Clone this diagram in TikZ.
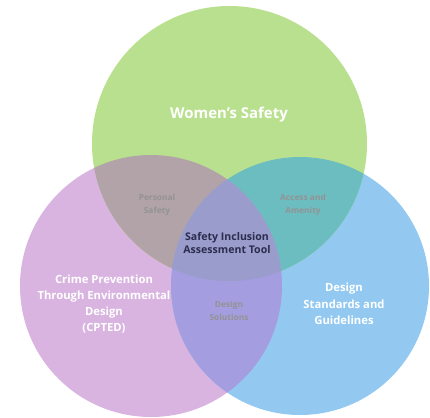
\documentclass[tikz,border=0pt]{standalone}
\usepackage{fontspec}
\setmainfont{Open Sans}[UprightFont=* Bold]
\begin{document}
\begin{tikzpicture}[x=1bp,y=-1bp,
  lbl/.style={align=center,inner sep=0pt,text=white},
  sub/.style={align=center,inner sep=0pt,text=subgray,font=\fontsize{8.4}{13}\selectfont},
]
\definecolor{cgreen}{HTML}{B9E08F}
\definecolor{cpurple}{HTML}{D9B4E1}
\definecolor{cblue}{HTML}{93C9F1}
\definecolor{cgp}{HTML}{B2A3A9}
\definecolor{cgb}{HTML}{6CBDC0}
\definecolor{cpb}{HTML}{A49DE0}
\definecolor{cgpb}{HTML}{9A9CCB}
\definecolor{subgray}{HTML}{939393}
\definecolor{navy}{HTML}{2C2C4E}
\useasboundingbox (0,0) rectangle (430,418);
\def\G{(229.5,143.5) circle (137.5)}
\def\P{(151,286) circle (131)}
\def\B{(300,286) circle (129)}
\fill[cpurple] \P;
\fill[cblue] \B;
\fill[cgreen] \G;
\begin{scope}\clip \G; \fill[cgp] \P; \end{scope}
\begin{scope}\clip \G; \fill[cgb] \B; \end{scope}
\begin{scope}\clip \P; \fill[cpb] \B; \end{scope}
\begin{scope}\clip \G; \clip \P; \fill[cgpb] \B; \end{scope}
\node[lbl,font=\fontsize{15}{17}\selectfont] (ws) at (229,115) {Women{\char39}s Safety};
\node[lbl,font=\fontsize{11.3}{16.3}\selectfont] (cp) at (104,304) {Crime Prevention\\Through Environmental\\Design\\(CPTED)};
\node[lbl,font=\fontsize{11.3}{16.3}\selectfont] (ds) at (344,304) {Design\\Standards and\\Guidelines};
\node[sub] (ps) at (157,205) {Personal\\Safety};
\node[sub] (aa) at (303,205) {Access and\\Amenity};
\node[sub] (dsol) at (229,311) {Design\\Solutions};
\node[lbl,text=navy,font=\fontsize{10.6}{14}\selectfont] (sia) at (227,243) {Safety Inclusion\\Assessment Tool};
\end{tikzpicture}
\end{document}
